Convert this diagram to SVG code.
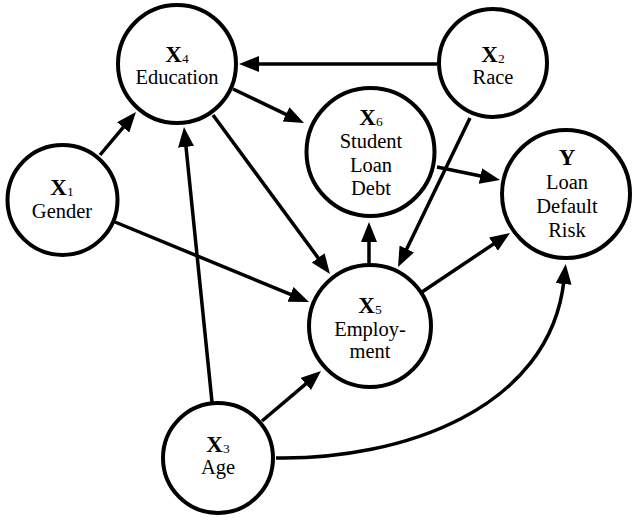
<svg xmlns="http://www.w3.org/2000/svg" width="641" height="522" viewBox="0 0 641 522">
<style>
.node circle{fill:#fff;stroke:#000;stroke-width:4}
.lbl{font-family:'Liberation Serif','DejaVu Serif',serif;font-size:20.5px;text-anchor:middle;fill:#000}
.var{font-family:'Liberation Serif','DejaVu Serif',serif;font-size:23px;font-weight:bold;text-anchor:middle;fill:#000}
.sub{font-size:13.5px;font-weight:normal}
.edge{fill:none;stroke:#000;stroke-width:3.5;marker-end:url(#arr)}
</style>
<defs>
<marker id="arr" markerUnits="userSpaceOnUse" markerWidth="20" markerHeight="16" refX="4" refY="8" orient="auto" viewBox="0 0 20 16">
<path d="M0,0 L20,8 L0,16 z" fill="#000"/>
</marker>
</defs>
<rect width="641" height="522" fill="#fff"/>
<g id="node-x4" class="node">
<circle cx="177" cy="64" r="59"/>
<text class="var" x="177" y="62">X<tspan class="sub" dy="1">4</tspan></text>
<text class="lbl" x="177" y="84">Education</text>
</g>
<g id="node-x2" class="node">
<circle cx="493" cy="63" r="54"/>
<text class="var" x="493" y="62">X<tspan class="sub" dy="1">2</tspan></text>
<text class="lbl" x="493" y="84">Race</text>
</g>
<g id="node-x6" class="node">
<circle cx="370.5" cy="152" r="64"/>
<text class="var" x="371" y="125">X<tspan class="sub" dy="1">6</tspan></text>
<text class="lbl" x="371" y="148">Student</text>
<text class="lbl" x="371" y="172">Loan</text>
<text class="lbl" x="371" y="195">Debt</text>
</g>
<g id="node-x1" class="node">
<circle cx="62.5" cy="200" r="55"/>
<text class="var" x="62" y="195">X<tspan class="sub" dy="1">1</tspan></text>
<text class="lbl" x="62" y="218">Gender</text>
</g>
<g id="node-y" class="node">
<circle cx="566" cy="194" r="64"/>
<text class="var" x="567" y="165">Y</text>
<text class="lbl" x="567" y="189">Loan</text>
<text class="lbl" x="567" y="213">Default</text>
<text class="lbl" x="567" y="237">Risk</text>
</g>
<g id="node-x5" class="node">
<circle cx="370" cy="326" r="61"/>
<text class="var" x="370" y="313">X<tspan class="sub" dy="1">5</tspan></text>
<text class="lbl" x="370" y="336">Employ-</text>
<text class="lbl" x="370" y="358">ment</text>
</g>
<g id="node-x3" class="node">
<circle cx="218" cy="458" r="55"/>
<text class="var" x="218" y="452">X<tspan class="sub" dy="1">3</tspan></text>
<text class="lbl" x="218" y="474">Age</text>
</g>
<g id="connectors">
<line class="edge" x1="437" y1="64" x2="255" y2="64"/>
<line class="edge" x1="233" y1="89" x2="289.6" y2="116.1"/>
<line class="edge" x1="213" y1="115" x2="320.5" y2="261.1"/>
<line class="edge" x1="100" y1="155" x2="125.7" y2="124.3"/>
<line class="edge" x1="115" y1="222" x2="294.2" y2="295.9"/>
<line class="edge" x1="212" y1="402" x2="185.6" y2="142.9"/>
<line class="edge" x1="262" y1="421" x2="308.8" y2="381.4"/>
<path class="edge" d="M276,458 C400,460 550,410 564,280"/>
<line class="edge" x1="369" y1="264" x2="369" y2="238"/>
<line class="edge" x1="470" y1="118" x2="405" y2="252.6"/>
<line class="edge" x1="437" y1="167" x2="484.3" y2="176.8"/>
<line class="edge" x1="422" y1="292" x2="496.7" y2="241.9"/>
</g>
</svg>
